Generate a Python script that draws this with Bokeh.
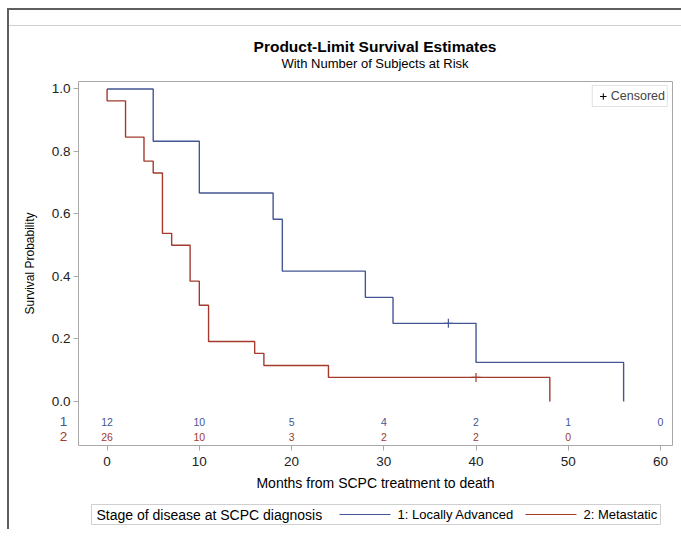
import numpy as np
from bokeh.plotting import figure
from bokeh.layouts import column
from bokeh.models import (Range1d, FixedTicker, PrintfTickFormatter, Legend, LegendItem,
                          ColumnDataSource, Div)
from bokeh.embed import file_html
from bokeh.resources import INLINE

# ---------------- data ----------------
grp1_times = [0, 5, 10, 18, 19, 28, 31, 40, 56]
grp1_surv = [1.0, 0.833, 0.667, 0.583, 0.417, 0.333, 0.25, 0.125, 0.0]
grp1_cens_t = [37]
grp1_cens_s = [0.25]

grp2_times = [0, 0, 2, 4, 5, 6, 7, 9, 10, 11, 16, 17, 24, 48]
grp2_surv = [1.0, 0.962, 0.846, 0.769, 0.731, 0.538, 0.5, 0.385, 0.308, 0.192, 0.154, 0.115, 0.077, 0.0]
grp2_cens_t = [40]
grp2_cens_s = [0.077]

risk_times = [0, 10, 20, 30, 40, 50, 60]
grp1_risk = [12, 10, 5, 4, 2, 1, 0]
grp2_risk = [26, 10, 3, 2, 2, 0]

x_ticks = [0, 10, 20, 30, 40, 50, 60]
y_ticks = [0.0, 0.2, 0.4, 0.6, 0.8, 1.0]

title_text = "Product-Limit Survival Estimates"
subtitle_text = "With Number of Subjects at Risk"
group_labels = ["1: Locally Advanced", "2: Metastatic"]
risk_row_labels = ["1", "2"]
legend_title = "Stage of disease at SCPC diagnosis"

BLUE = "#445694"
RED = "#A23A2E"
FONT = "Liberation Sans"
GRAY = "#a8a8a8"

RISK_Y1 = -0.067
RISK_Y2 = -0.115

W = 672
ML, MR = 69, 9
p = figure(width=W, height=425, x_range=Range1d(-3.1, 61.3), y_range=Range1d(-0.141, 1.024),
           output_backend="svg", toolbar_location=None,
           min_border_left=ML, min_border_right=MR, min_border_top=8, min_border_bottom=53)
p.xgrid.grid_line_color = None
p.ygrid.grid_line_color = None
p.outline_line_color = GRAY
p.background_fill_color = "white"
p.border_fill_color = "white"

for ax in (p.xaxis[0], p.yaxis[0]):
    ax.axis_line_color = None
    ax.major_tick_line_color = GRAY
    ax.major_tick_out = 5
    ax.major_tick_in = 0
    ax.minor_tick_line_color = None
    ax.major_label_text_font = FONT
    ax.major_label_text_font_size = "13.5px"
    ax.major_label_text_color = "#222222"
    ax.axis_label_text_font = FONT
    ax.axis_label_text_font_style = "normal"
    ax.axis_label_text_color = "#000000"

p.xaxis.ticker = FixedTicker(ticks=x_ticks)
p.yaxis.ticker = FixedTicker(ticks=y_ticks)
p.yaxis.formatter = PrintfTickFormatter(format="%.1f")
p.xaxis.axis_label = "Months from SCPC treatment to death"
p.xaxis.axis_label_text_font_size = "14px"
p.xaxis.major_label_standoff = 6
p.xaxis.axis_label_standoff = 6
p.yaxis.axis_label = "Survival Probability"
p.yaxis.axis_label_text_font_size = "12px"
p.yaxis.major_label_standoff = 3
p.yaxis.axis_label_standoff = 12

# survival curves
p.step(grp1_times, grp1_surv, mode="after", line_color=BLUE, line_width=1.4)
p.step(grp2_times, grp2_surv, mode="after", line_color=RED, line_width=1.4)

# censored marks
p.scatter(grp1_cens_t, grp1_cens_s, marker="cross", size=9, line_color=BLUE, line_width=1.2)
p.scatter(grp2_cens_t, grp2_cens_s, marker="cross", size=9, line_color=RED, line_width=1.2)

# at risk table
src1 = ColumnDataSource(dict(x=risk_times[:len(grp1_risk)], y=[RISK_Y1] * len(grp1_risk),
                             t=[str(v) for v in grp1_risk]))
src2 = ColumnDataSource(dict(x=risk_times[:len(grp2_risk)], y=[RISK_Y2] * len(grp2_risk),
                             t=[str(v) for v in grp2_risk]))
p.text(x="x", y="y", text="t", source=src1, text_align="center", text_baseline="middle",
       text_font_size="10.5px", text_color=BLUE, text_font={"value": FONT})
p.text(x="x", y="y", text="t", source=src2, text_align="center", text_baseline="middle",
       text_font_size="10.5px", text_color=RED, text_font={"value": FONT})

# inset legend for censored marks (dummy renderer that draws nothing in the plot)
d_cens = p.scatter(x="x", y="y", source=ColumnDataSource(dict(x=np.array([np.nan]), y=np.array([np.nan]))),
                   marker="cross", size=9, line_color="#000000", line_width=1.0)
leg_c = Legend(items=[LegendItem(label="Censored", renderers=[d_cens])], location="top_right",
               glyph_width=16, glyph_height=16, label_standoff=0, padding=2, margin=4, spacing=0,
               border_line_color="#c8c8c8", label_text_font=FONT, label_text_font_size="12.5px",
               label_height=16, background_fill_alpha=1.0)
p.add_layout(leg_c)

# ---------------- header: window rule + titles ----------------
header_html = (
    f'<div style="width:{W}px;">'
    '<div style="height:16px;border-bottom:1px solid #d0d0d0;"></div>'
    f'<div style="margin-top:12px;height:18px;line-height:18px;padding-left:60px;text-align:center;'
    f'font-family:\'{FONT}\';font-size:15.5px;font-weight:bold;color:#000;white-space:nowrap;">{title_text}</div>'
    f'<div style="height:16px;line-height:16px;padding-left:60px;text-align:center;'
    f'font-family:\'{FONT}\';font-size:13px;color:#000;white-space:nowrap;">{subtitle_text}</div>'
    '</div>'
)
header = Div(text=header_html, width=W, height=63, margin=0, styles={"background": "white"})

# ---------------- bottom legend strip ----------------
LH = 31
lg = figure(width=W, height=LH, x_range=Range1d(ML, W - MR), y_range=Range1d(0, LH),
            x_axis_location=None, y_axis_location=None,
            output_backend="svg", toolbar_location=None,
            min_border_left=ML, min_border_right=MR, min_border_top=0, min_border_bottom=0)
lg.grid.visible = False
lg.outline_line_color = None
lg.background_fill_color = "white"
lg.border_fill_color = "white"
box_l, box_r, box_b, box_t = 82, 651, 5, 25
yc = (box_b + box_t) / 2
lg.quad(left=[box_l], right=[box_r], bottom=[box_b], top=[box_t], fill_color="white",
        line_color="#cfcfcf", line_width=1)
lg.text(x=[box_l + 5], y=[yc], text=[legend_title], text_align="left", text_baseline="middle",
        text_font_size="14px", text_font={"value": FONT}, text_color="#000000")
seg_x0 = [330, 516]
seg_len = 51
lg.segment(x0=[seg_x0[0]], y0=[yc], x1=[seg_x0[0] + seg_len], y1=[yc], line_color=BLUE, line_width=1.2)
lg.segment(x0=[seg_x0[1]], y0=[yc], x1=[seg_x0[1] + seg_len], y1=[yc], line_color=RED, line_width=1.2)
lg.text(x=[s + seg_len + 7 for s in seg_x0], y=[yc, yc], text=group_labels, text_align="left",
        text_baseline="middle", text_font_size="13px", text_font={"value": FONT},
        text_color="#000000")

layout = column(header, p, lg, spacing=0,
                styles={"margin-left": "7px", "margin-top": "8px",
                        "border-top": "2px solid #5f5f5f", "border-left": "2px solid #5f5f5f"})

# ---------------- row labels of the at-risk table (overlay just left of the frame) ----------------
RW, RH = 20, 36
rl = figure(width=RW, height=RH, x_range=Range1d(0, RW), y_range=Range1d(0, RH),
            x_axis_location=None, y_axis_location=None, output_backend="svg",
            toolbar_location=None, min_border=0,
            styles={"position": "absolute", "left": "53px", "top": "410px"})
rl.grid.visible = False
rl.outline_line_color = None
rl.background_fill_alpha = 0
rl.border_fill_alpha = 0
rl.text(x=[RW / 2, RW / 2], y=[25, 10], text=risk_row_labels, text_color=[BLUE, RED],
        text_align="center", text_baseline="middle", text_font_size="13.5px",
        text_font={"value": FONT})

open("out.html", "w").write(file_html([layout, rl], INLINE))
